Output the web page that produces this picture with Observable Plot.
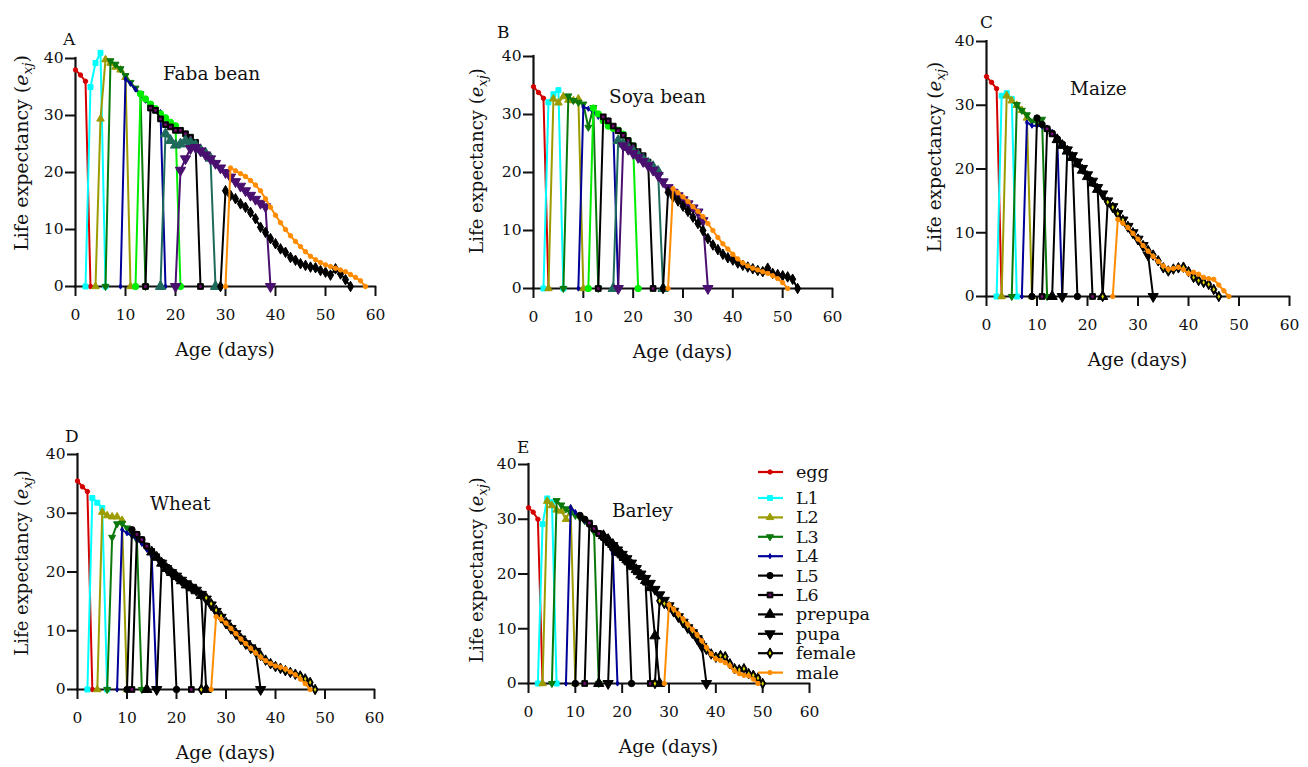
<!DOCTYPE html>
<html><head><meta charset="utf-8">
<script src="https://cdn.jsdelivr.net/npm/d3@7"></script>
<script src="https://cdn.jsdelivr.net/npm/@observablehq/plot@0.6"></script>
<style>
html,body{margin:0;padding:0;background:#fff;}
#page{position:relative;width:1308px;height:767px;overflow:hidden;font-family:"DejaVu Serif",serif;}
#page svg.panel{position:absolute;}
#overlay{position:absolute;left:0;top:0;pointer-events:none;}
</style></head><body><div id="page"></div>
<script>
// ---------------- data ----------------
const stages = ["egg","L1","L2","L3","L4","L5","L6","prepupa","pupa","female","male"];
const xTicks = [0,10,20,30,40,50,60];
const yTicks = [0,10,20,30,40];
const panelLetters = ["A","B","C","D","E"];
const hostNames = ["Faba bean","Soya bean","Maize","Wheat","Barley"];

// first day (value 0 before stage appears, except egg) of each stage, per host
const fabaStart = [0,2,4,6,9,12,14,17,20,29,30];
const fabaEx = [
 [38,37.1,36,0],
 [0,35,39.2,41,0],
 [0,29.4,39.8,39.2,38.5,38,36.7,0],
 [0,39.6,39,38.2,37,35.8,34.8,33.8,0],
 [0,36.4,35.6,34.6,33.6,32.6,31.9,31.2,30.6,0],
 [0,33.8,32.9,32,31.2,30.3,29.6,28.8,28.2,0],
 [0,31.3,30.9,29.4,28.4,28,27.4,27.4,26.8,26.2,25.3,0],
 [0,26.8,25.6,24.8,25,25.6,25.3,24.8,24,23.4,22.5,0],
 [0,20.4,22.4,24.2,24.4,23.8,23.1,22.4,21.6,20.8,20,19.2,18.4,17.6,16.8,16,15.3,14.6,14,0],
 [0,16.8,16,15.4,14.5,13.9,13,11.9,10.4,9.5,8.4,7.5,6.6,6,5.1,4.6,4,3.7,3.4,3.3,2.8,2.5,2,3.1,2.2,1.2,0],
 [0,20.8,20.3,19.8,19.3,18.6,17.8,16.8,15.4,13.9,12.5,11.2,10,8.9,7.9,7,6.1,5.3,4.7,4.2,3.8,3.5,3.2,2.9,2.6,2.1,1.6,1,0]
];

const soyaStart = [0,2,3,6,9,11,13,16,17,26,27];
const soyaEx = [
 [34.8,33.8,32.8,0],
 [0,32.1,33.5,34.2,0],
 [0,32.7,32,33.1,32.5,32.4,32.7,0],
 [0,33.2,32.4,32.1,31.8,27.8,31.2,0],
 [0,31.3,31,30.4,29.6,29.4,29,27.8,0],
 [0,31.1,30.1,28.9,28,27.6,27.3,26.6,25.5,24.6,0],
 [0,29.6,28.9,28,27.2,26.4,25.5,24.6,23.6,22.9,21.8,0],
 [0,25.5,24.9,24.3,23.7,23,22.3,21.6,21,20.2,0],
 [0,24.6,24,23.3,22.6,21.9,21.2,20.4,19.5,18.4,17.4,16.6,16,15.3,14.6,13.9,13.2,11.7,0],
 [0,16.6,15.8,15.1,14.2,13.3,12.3,11.2,10,8.6,7.5,6.7,5.9,5.3,4.9,4.4,4,3.7,3.4,3.1,2.9,3.5,2.6,2.4,2.2,2,1.6,0],
 [0,17.2,16.5,15.8,15,14.1,13.3,12.4,11.2,10,8.8,7.7,6.8,5.9,5.1,4.4,3.9,3.5,3.2,2.9,2.6,2.2,1.7,1,0]
];

const maizeStart = [0,2,3,5,7,9,11,13,15,23,25];
const maizeEx = [
 [34.5,33.6,32.6,0],
 [0,31.5,31.9,31,0],
 [0,31.5,30.7,30,29.2,28,0],
 [0,30.1,29.2,28.5,27.5,27.3,27.8,0],
 [0,27.3,26.8,26.8,26.7,26.5,25.8,25,0],
 [0,28,27,26.3,25.6,24.7,23.9,23,22,0],
 [0,26.3,25.5,24.6,23.8,23,22,21,20,19,0],
 [0,24.6,23.7,22.8,21.8,20.8,19.8,18.8,17.8,16.8,0],
 [0,23,22.1,21.1,20.1,19.1,18.1,17.1,16.1,15,14.1,13,12,11,10,9,8,6.5,0],
 [0,14.8,14,13,12,11,10,9,8,7.2,6.5,5.6,4.5,4,4.3,4.5,4.6,3.9,3,2.5,2.2,1.9,1.1,0],
 [0,12.1,11.5,10.8,9.9,9,8,7.1,6.3,5.5,4.8,4.3,4.4,4.6,4.2,3.6,3.8,3.5,3,2.8,2.7,1.8,0.9,0]
];

const wheatStart = [0,2,4,6,8,10,11,14,16,25,27];
const wheatEx = [
 [35.5,34.5,33.7,0],
 [0,32.6,31.8,30.9,0],
 [0,30.2,29.6,29.4,29.4,28.8,0],
 [0,25.9,28.2,28.3,27.5,26.3,25.5,0],
 [0,27.2,26.6,26.2,25.5,24.8,23.8,22.6,0],
 [0,27.2,26.4,25.5,24.4,23.5,22.6,21.6,20.6,19.8,0],
 [0,26.4,25.5,24.4,23.5,22.6,21.6,20.8,20,19.3,18.6,17.8,0],
 [0,23.4,22.5,21.5,20.6,19.9,19.2,18.5,17.8,17.3,16.8,16,0],
 [0,21.5,20.6,19.9,19.3,18.6,18,17.4,16.9,16.2,15.4,14.4,13.3,12.3,11.3,10.4,9.5,8.6,7.8,7.1,6.5,0],
 [0,15.6,14.6,13.5,12.5,11.4,10.5,9.6,8.7,7.9,7.2,6.5,5.8,5,4.4,3.9,3.6,3.2,2.9,2.6,2.3,1.8,1.2,0],
 [0,12.4,12,11.3,10.4,9.5,8.6,7.8,7,6.2,5.5,4.9,4.4,4,3.8,3.5,3,2.5,1.8,1,0]
];

const barleyStart = [0,2,3,5,8,10,12,15,17,27,29];
const barleyEx = [
 [32.1,31.3,30,0],
 [0,29.1,33.8,33.1,0],
 [0,33.3,32.5,31.7,31.5,30,31.9,0],
 [0,33.4,32.6,31.9,31.2,30.7,30.2,29.7,29.1,27.7,0],
 [0,32.2,31.3,30.5,29.7,29,28,27.3,26.3,25.5,23.7,0],
 [0,30.7,30,29.1,28.2,27.4,26.6,25.7,24.8,23.8,23,22.2,0],
 [0,29.3,28.3,27.4,26.7,25.8,24.8,23.9,23,22.2,21.3,20.4,19.5,18.5,0],
 [0,27,26.3,25.4,24.4,23.5,22.6,21.7,20.8,19.8,18.8,17.5,8.7,0],
 [0,25.2,24.4,23.6,22.8,22,21,20,19.2,18.3,17.2,16.2,15.2,14.2,13.2,12.2,11.2,10.2,9.3,8.2,6.8,0],
 [0,15.1,14.6,14,13.2,12.3,11.3,10.4,9.5,8.6,7.6,6.2,5.4,4.8,5.1,4.9,3.6,2.7,2.5,2.7,1.8,1.5,1,0],
 [0,14.4,13.6,12.7,11.8,10.8,9.9,8.9,7.8,6.6,5.4,4.5,4.2,3.8,3.2,2.3,1.8,1.5,1.4,0.8,0]
];

// ---------------- styles ----------------
const colorsAB = ["#d40000","#00ffff","#9c9c00","#0b780b","#000099","#00ee00","#000000","#1e6b5c","#4a1070","#000000","#ff8c00"];
const innerAB  = [null,null,null,null,null,null,"#7a0a7a",null,null,null,null];
const colorsCDE = ["#d40000","#00ffff","#9c9c00","#0b780b","#000099","#000000","#000000","#000000","#000000","#000000","#ff8c00"];
const innerCDE  = [null,null,null,null,null,null,"#7a0a7a",null,null,"#d8d800",null];
const symbols = ["circle","square","triangle","triangle","diamond","circle","square","triangle","triangle","diamond","circle"];
const rotations = [0,0,0,180,0,0,0,0,180,0,0];
const radii = [2.2,2.8,2.8,2.6,1.6,3.2,3.2,3.8,3.8,3.2,2.2];

const panels = [
 {start: fabaStart, ex: fabaEx, colors: colorsAB, inner: innerAB, box:{x0:75,x1:375,y0:58,y1:286},
  letter:[63,45], title:[163,80], ytitle:[22,153], yfont:19},
 {start: soyaStart, ex: soyaEx, colors: colorsAB, inner: innerAB, box:{x0:533,x1:832,y0:56,y1:288},
  letter:[497,38], title:[609,103], ytitle:[477,161], yfont:18},
 {start: maizeStart, ex: maizeEx, colors: colorsCDE, inner: innerCDE, box:{x0:986,x1:1289,y0:41,y1:296},
  letter:[980,28], title:[1070,95], ytitle:[935,157], yfont:18.5},
 {start: wheatStart, ex: wheatEx, colors: colorsCDE, inner: innerCDE, box:{x0:77,x1:374,y0:454,y1:689},
  letter:[65,442], title:[150,510], ytitle:[22,563], yfont:18},
 {start: barleyStart, ex: barleyEx, colors: colorsCDE, inner: innerCDE, box:{x0:528,x1:809,y0:464,y1:683},
  letter:[517,453], title:[612,517], ytitle:[477,570], yfont:18}
];

const page = document.getElementById("page");
const mL = 70, mR = 20, mT = 20, mB = 50;

panels.forEach((p) => {
  const w = p.box.x1 - p.box.x0, h = p.box.y1 - p.box.y0;
  const marks = [
    Plot.axisX(xTicks, {tickSize: 10, tickPadding: 12, strokeWidth: 2, label: null}),
    Plot.axisY(yTicks, {tickSize: 10, tickPadding: 2, strokeWidth: 2, label: null}),
    Plot.ruleX([xTicks[0]], {strokeWidth: 2.2, strokeLinecap: "square"}),
    Plot.ruleY([yTicks[0]], {strokeWidth: 2.2, strokeLinecap: "square"})
  ];
  stages.forEach((s, i) => {
    const rows = p.ex[i].map((v, j) => ({stage: s, day: p.start[i] + j, ex: v}));
    marks.push(Plot.line(rows, {x: "day", y: "ex", stroke: p.colors[i], strokeWidth: 2}));
    marks.push(Plot.dot(rows, {x: "day", y: "ex", symbol: symbols[i], r: radii[i],
      fill: p.colors[i], stroke: p.colors[i], strokeWidth: 1, rotate: rotations[i]}));
    if (p.inner[i]) {
      marks.push(Plot.dot(rows, {x: "day", y: "ex", symbol: symbols[i], r: radii[i] * 0.45,
        fill: p.inner[i], stroke: "none", rotate: rotations[i]}));
    }
  });
  const svg = Plot.plot({
    width: w + mL + mR, height: h + mT + mB,
    marginLeft: mL, marginRight: mR, marginTop: mT, marginBottom: mB,
    x: {domain: [xTicks[0], xTicks[xTicks.length - 1]]},
    y: {domain: [yTicks[0], yTicks[yTicks.length - 1]]},
    style: {fontFamily: "DejaVu Serif", fontSize: "15.5px", color: "#111", background: "transparent", overflow: "visible"},
    marks
  });
  svg.classList.add("panel");
  svg.style.left = (p.box.x0 - mL) + "px";
  svg.style.top = (p.box.y0 - mT) + "px";
  page.appendChild(svg);
});

// ---------------- overlay texts & legend ----------------
const ov = d3.select(page).append("svg").attr("id", "overlay").attr("width", 1308).attr("height", 767)
  .style("font-family", "DejaVu Serif").style("fill", "#111");

panels.forEach((p, k) => {
  ov.append("text").attr("x", p.letter[0]).attr("y", p.letter[1]).attr("font-size", 17).text(panelLetters[k]);
  ov.append("text").attr("x", p.title[0]).attr("y", p.title[1]).attr("font-size", 18.5).text(hostNames[k]);
  const cx = (p.box.x0 + p.box.x1) / 2;
  ov.append("text").attr("x", cx).attr("y", p.box.y1 + 70).attr("font-size", 18.5)
    .attr("text-anchor", "middle").text("Age (days)");
  const t = ov.append("text").attr("font-size", p.yfont)
    .attr("transform", `translate(${p.ytitle[0] + 6},${p.ytitle[1]}) rotate(-90)`)
    .attr("text-anchor", "middle");
  t.append("tspan").text("Life expectancy (");
  t.append("tspan").attr("font-style", "italic").text("e");
  t.append("tspan").attr("font-style", "italic").attr("font-size", p.yfont * 0.72).attr("dy", 4).text("xj");
  t.append("tspan").attr("dy", -4).text(")");
});

// legend (styled like panels C–E)
const symMap = {circle: d3.symbolCircle, square: d3.symbolSquare, triangle: d3.symbolTriangle, diamond: d3.symbolDiamond};
stages.forEach((s, i) => {
  const cy = i === 0 ? 472 : 498 + (i - 1) * 19.4;
  const g = ov.append("g");
  g.append("line").attr("x1", 758).attr("x2", 783).attr("y1", cy).attr("y2", cy)
    .attr("stroke", colorsCDE[i]).attr("stroke-width", 2.2);
  g.append("path").attr("d", d3.symbol(symMap[symbols[i]], Math.PI * radii[i] * radii[i])())
    .attr("transform", `translate(770,${cy}) rotate(${rotations[i]})`)
    .attr("fill", colorsCDE[i]).attr("stroke", colorsCDE[i]).attr("stroke-width", 1);
  if (innerCDE[i]) {
    const ri = radii[i] * 0.45;
    g.append("path").attr("d", d3.symbol(symMap[symbols[i]], Math.PI * ri * ri)())
      .attr("transform", `translate(770,${cy}) rotate(${rotations[i]})`)
      .attr("fill", innerCDE[i]);
  }
  g.append("text").attr("x", 796).attr("y", cy + 6).attr("font-size", 17.5).text(s);
});
</script></body></html>
